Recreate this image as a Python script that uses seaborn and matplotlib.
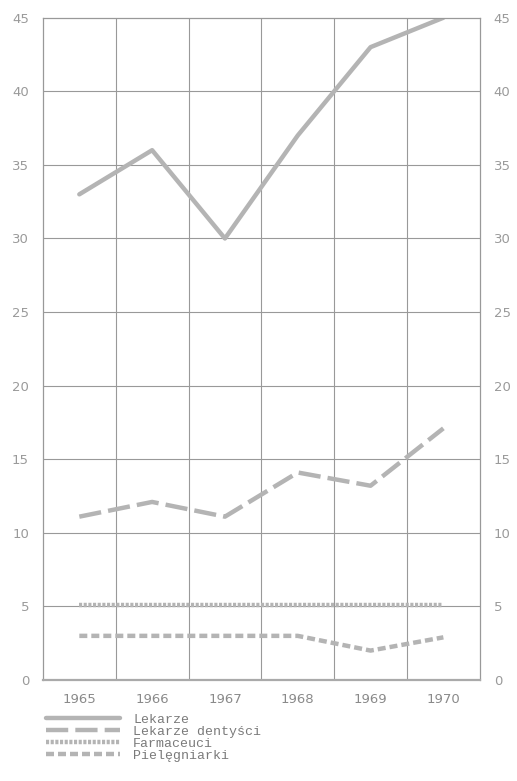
import matplotlib
matplotlib.use("Agg")
import matplotlib.pyplot as plt
import seaborn as sns
import pandas as pd

years = [1965, 1966, 1967, 1968, 1969, 1970]
lekarze = [33, 36, 30, 37, 43, 45]
dentysci = [11.1, 12.1, 11.1, 14.1, 13.2, 17.1]
farmaceuci = [5.1, 5.1, 5.1, 5.1, 5.1, 5.1]
pielegniarki = [3.0, 3.0, 3.0, 3.0, 2.0, 2.9]
series_names = ["Lekarze", "Lekarze dentyści", "Farmaceuci", "Pielęgniarki"]
y_ticks = [0, 5, 10, 15, 20, 25, 30, 35, 40, 45]

rows = []
for name, vals in zip(series_names, [lekarze, dentysci, farmaceuci, pielegniarki]):
    for yr, v in zip(years, vals):
        rows.append({"rok": yr, "wartosc": v, "grupa": name})
df = pd.DataFrame(rows)

sns.set_theme(style="white")
fig = plt.figure(figsize=(5.17, 7.81), dpi=100)
ax = fig.add_axes([0.083, 0.1293, 0.845, 0.848])

line_col = "#b4b4b4"
dashes = {
    "Lekarze": "",
    "Lekarze dentyści": (5, 1.6),
    "Farmaceuci": (0.7, 0.35),
    "Pielęgniarki": (1.8, 0.9),
}
sns.lineplot(data=df, x="rok", y="wartosc", hue="grupa", style="grupa",
             hue_order=series_names, style_order=series_names,
             palette=[line_col] * 4, dashes=dashes, linewidth=3.2,
             ax=ax, legend=True)

ax.set_xlim(1964.5, 1970.5)
ax.set_ylim(0, 45)
ax.set_yticks(y_ticks)
ax.set_xticks(years)
ax.set_xticklabels([str(y) for y in years])
ax.grid(False)
for xv in [1965.5 + i for i in range(5)]:
    ax.axvline(xv, color="#999999", lw=0.8, zorder=0)
for yv in y_ticks[1:-1]:
    ax.axhline(yv, color="#999999", lw=0.8, zorder=0)
for s in ax.spines.values():
    s.set_color("#999999")
    s.set_linewidth(0.9)
ax.spines["bottom"].set_color("#aaaaaa")
ax.spines["bottom"].set_linewidth(1.6)

ax.tick_params(axis="y", which="both", length=0, labelright=True, labelleft=True,
               labelsize=9.5, labelcolor="#9a9a9a", pad=10)
ax.tick_params(axis="x", which="both", length=0, labelsize=9.5, labelcolor="#8a8a8a", pad=9)
ax.set_xlabel("")
ax.set_ylabel("")

handles, labels = ax.get_legend_handles_labels()
ax.legend(handles, labels, loc="upper left", bbox_to_anchor=(-0.005, -0.043),
          frameon=False, handlelength=5.6, handletextpad=1.0, labelspacing=-0.02,
          borderaxespad=0, prop={"family": "Liberation Mono", "size": 9.5},
          labelcolor="#7a7a7a")

fig.savefig("out.png", dpi=100, facecolor="white")
